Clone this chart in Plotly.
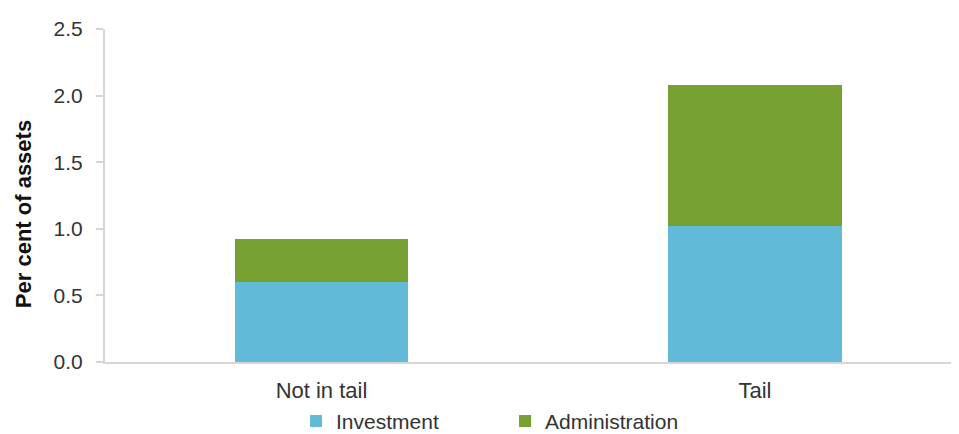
import plotly.graph_objects as go

categories = ["Not in tail", "Tail"]
investment = [0.60, 1.02]
administration = [0.32, 1.06]
y_ticks = [0.0, 0.5, 1.0, 1.5, 2.0, 2.5]
y_tick_labels = ["0.0", "0.5", "1.0", "1.5", "2.0", "2.5"]

FONT = "Liberation Sans, Arial, sans-serif"
TXT = "#333333"

fig = go.Figure()
fig.add_trace(go.Bar(name="Investment", x=[0, 1], y=investment, width=0.40,
                     marker=dict(color="#62BAD9", line=dict(width=0))))
fig.add_trace(go.Bar(name="Administration", x=[0, 1], y=administration, width=0.40,
                     marker=dict(color="#77A033", line=dict(width=0))))

# the page body adds an 8px offset, so the figure is sized to fit the window
fig.update_layout(
    barmode="stack",
    width=951, height=426,
    margin=dict(l=97, r=0, t=21, b=72, autoexpand=False),
    paper_bgcolor="white", plot_bgcolor="white",
    font=dict(family=FONT, size=22, color=TXT),
    showlegend=True,
    legend=dict(orientation="h", x=0.2237, xanchor="left", xref="paper",
                y=0.078, yanchor="top", yref="container",
                font=dict(size=21, color=TXT), entrywidth=164, entrywidthmode="pixels",
                itemwidth=30, traceorder="normal"),
    xaxis=dict(range=[-0.4994, 1.4706], tickmode="array", tickvals=[0, 1], ticktext=categories,
               showline=True, linecolor="#d6d6d6", linewidth=2, ticks="", showgrid=False,
               zeroline=False, tickfont=dict(size=22, color=TXT), ticklabelstandoff=8),
    yaxis=dict(range=[0, 2.5], tickmode="array", tickvals=y_ticks, ticktext=y_tick_labels,
               showline=True, linecolor="#d6d6d6", linewidth=2, ticks="outside", ticklen=7,
               tickcolor="#d6d6d6", tickwidth=2, showgrid=False, zeroline=False,
               tickfont=dict(size=21, color=TXT), ticklabelstandoff=9),
    annotations=[dict(text="<b>Per cent of assets</b>", textangle=-90, xref="paper", yref="paper",
                      x=-0.096, y=0.444, xanchor="center", yanchor="middle", showarrow=False,
                      font=dict(size=22, color="#111111"))],
)

fig.write_html("out.html")
